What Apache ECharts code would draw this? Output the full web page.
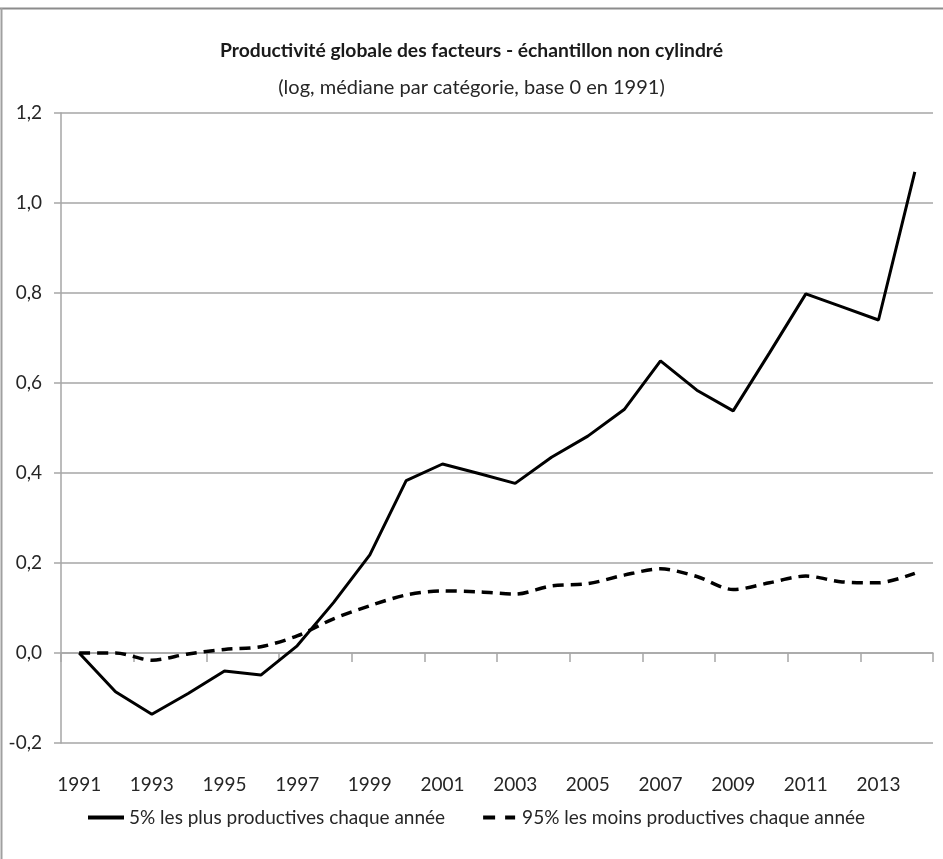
<!DOCTYPE html>
<html>
<head>
<meta charset="utf-8">
<script src="https://cdn.jsdelivr.net/npm/echarts@6/dist/echarts.min.js"></script>
<style>
  html, body { margin: 0; padding: 0; background: #fff; }
  #chart { width: 943px; height: 859px; }
</style>
</head>
<body>
<div id="chart"></div>
<script>
// années (axe des x)
const years = ['1991', '1992', '1993', '1994', '1995', '1996', '1997', '1998', '1999', '2000',
  '2001', '2002', '2003', '2004', '2005', '2006', '2007', '2008', '2009', '2010',
  '2011', '2012', '2013', '2014']
// 5% les plus productives
const top5 = [0, -0.086, -0.136, -0.09, -0.04, -0.049, 0.016, 0.112, 0.218, 0.383,
  0.42, 0.399, 0.377, 0.435, 0.482, 0.541, 0.649, 0.584, 0.538, 0.667,
  0.798, 0.769, 0.74, 1.069]
// 95% les moins productives
const bottom95 = [0, 0, -0.016, -0.002, 0.008, 0.014, 0.038, 0.076, 0.105, 0.129,
  0.138, 0.136, 0.131, 0.149, 0.154, 0.173, 0.187, 0.17, 0.141, 0.156,
  0.171, 0.158, 0.156, 0.177]
const legendNames = ['5% les plus productives chaque année', '95% les moins productives chaque année']

const font = "Lato, sans-serif"
const gridColor = '#a6a6a6'

const myChart = echarts.init(document.getElementById('chart'))

const option = {
  backgroundColor: '#fff',
  animation: false,
  title: [
    {
      text: 'Productivité globale des facteurs - échantillon non cylindré',
      left: 'center',
      top: 36,
      textStyle: { fontFamily: font, fontSize: 19.3, fontWeight: 'bold', color: '#1a1a1a' }
    },
    {
      text: '(log, médiane par catégorie, base 0 en 1991)',
      left: 'center',
      top: 73,
      textStyle: { fontFamily: font, fontSize: 20, fontWeight: 'normal', color: '#262626' }
    }
  ],
  legend: {
    left: 88,
    top: 808,
    padding: 0,
    itemWidth: 36,
    itemHeight: 4,
    itemGap: 38,
    data: [
      { name: legendNames[0], icon: 'path://M0,0h36v4h-36z' },
      { name: legendNames[1], icon: 'path://M0,0h12v4h-12zM22,0h10v4h-10z' }
    ],
    textStyle: { fontFamily: font, fontSize: 19, color: '#262626' }
  },
  grid: { left: 61, right: 10, top: 113, bottom: 116, outerBoundsMode: 'none' },
  xAxis: {
    type: 'category',
    data: years,
    boundaryGap: true,
    axisLine: { onZero: true, lineStyle: { color: gridColor, width: 1.5 } },
    axisTick: { show: true, interval: 1, length: 9, lineStyle: { color: gridColor, width: 1.5 } },
    axisLabel: {
      interval: 1,
      margin: 32,
      fontFamily: font,
      fontSize: 19,
      color: '#262626'
    }
  },
  yAxis: {
    type: 'value',
    min: -0.2,
    max: 1.2,
    interval: 0.2,
    axisLine: { show: true, lineStyle: { color: gridColor, width: 1.5 } },
    axisTick: { show: true, length: 7, lineStyle: { color: gridColor, width: 1.5 } },
    splitLine: { lineStyle: { color: gridColor, width: 1.5 } },
    axisLabel: {
      margin: 19,
      fontFamily: font,
      fontSize: 19,
      color: '#262626',
      formatter: (v) => v.toFixed(1).replace('.', ',')
    }
  },
  series: [
    {
      name: legendNames[0],
      type: 'line',
      data: top5,
      symbol: 'none',
      color: '#000',
      lineStyle: { color: '#000', width: 3 }
    },
    {
      name: legendNames[1],
      type: 'line',
      data: bottom95,
      symbol: 'none',
      smooth: 0.3,
      color: '#000',
      lineStyle: { color: '#000', width: 3.5, type: [11, 7] }
    }
  ],
  graphic: [
    // cadre (haut et gauche)
    { type: 'line', shape: { x1: 0, y1: 8.5, x2: 943, y2: 8.5 }, style: { stroke: '#8c8c8c', lineWidth: 2 } },
    { type: 'line', shape: { x1: 1.5, y1: 8, x2: 1.5, y2: 859 }, style: { stroke: '#a0a0a0', lineWidth: 2 } }
  ]
}
myChart.setOption(option)
</script>
</body>
</html>
